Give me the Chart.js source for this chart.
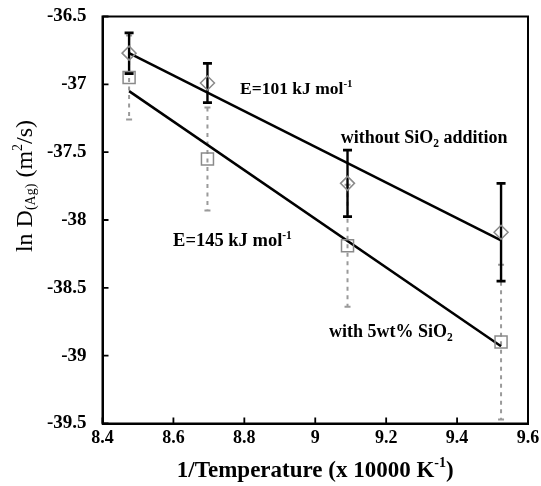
<!DOCTYPE html>
<html>
<head>
<meta charset="utf-8">
<script src="https://cdn.jsdelivr.net/npm/chart.js@4.4.1/dist/chart.umd.min.js"></script>
<style>
  html, body { margin: 0; padding: 0; background: #ffffff; }
  #wrap { width: 541px; height: 486px; position: relative; }
  canvas { display: block; }
</style>
</head>
<body>
<div id="wrap"><canvas id="c" width="541" height="486"></canvas></div>
<script>
// ---- data ----
const xValues = [8.475, 8.696, 9.091, 9.524];           // 1/T (x 10000 K^-1)
const withoutSiO2 = [-36.77, -36.99, -37.73, -38.09];   // ln D, diamonds
const withoutSiO2Err = [0.15, 0.145, 0.245, 0.36];
const withSiO2 = [-36.95, -37.55, -38.19, -38.90];      // ln D, squares
const withSiO2Err = [0.31, 0.38, 0.45, 0.57];
const fitX = [8.475, 9.524];
const fitWithout = [-36.77, -38.15];                    // E = 101 kJ/mol
const fitWith = [-37.05, -38.93];                       // E = 145 kJ/mol
const xTicks = [8.4, 8.6, 8.8, 9.0, 9.2, 9.4, 9.6];
const xTickLabels = ['8.4', '8.6', '8.8', '9', '9.2', '9.4', '9.6'];
const yTicks = [-39.5, -39, -38.5, -38, -37.5, -37, -36.5];
const yTickLabels = ['-39.5', '-39', '-38.5', '-38', '-37.5', '-37', '-36.5'];

const SERIF = '"Liberation Serif", "Times New Roman", serif';

function pts(xs, ys) { return xs.map((x, i) => ({ x: x, y: ys[i] })); }

// rich text: segments [{t, size, bold, dy}]
function drawRich(ctx, segs, x, y, align) {
  let total = 0;
  segs.forEach(s => {
    ctx.font = (s.bold ? 'bold ' : '') + s.size + 'px ' + SERIF;
    s.w = ctx.measureText(s.t).width;
    total += s.w;
  });
  let cx = align === 'center' ? x - total / 2 : x;
  ctx.textBaseline = 'alphabetic';
  ctx.textAlign = 'left';
  segs.forEach(s => {
    ctx.font = (s.bold ? 'bold ' : '') + s.size + 'px ' + SERIF;
    ctx.fillText(s.t, cx, y + (s.dy || 0));
    cx += s.w;
  });
}

const decorPlugin = {
  id: 'decor',
  beforeDatasetsDraw(chart) {
    const ctx = chart.ctx;
    const xs = chart.scales.x, ys = chart.scales.y;
    ctx.save();
    // gray dashed error bars (with SiO2)
    ctx.strokeStyle = '#9a9a9a';
    ctx.lineWidth = 2;
    xValues.forEach((xv, i) => {
      const px = xs.getPixelForValue(xv);
      const top = ys.getPixelForValue(withSiO2[i] + withSiO2Err[i]);
      const bot = ys.getPixelForValue(withSiO2[i] - withSiO2Err[i]);
      ctx.setLineDash([4, 4.5]);
      ctx.beginPath(); ctx.moveTo(px, top); ctx.lineTo(px, bot); ctx.stroke();
      ctx.setLineDash([]);
      ctx.beginPath();
      ctx.moveTo(px - 3, top); ctx.lineTo(px + 3, top);
      ctx.moveTo(px - 3, bot); ctx.lineTo(px + 3, bot);
      ctx.stroke();
    });
    // black error bars (without SiO2)
    ctx.strokeStyle = '#000000';
    xValues.forEach((xv, i) => {
      const px = xs.getPixelForValue(xv);
      const top = ys.getPixelForValue(withoutSiO2[i] + withoutSiO2Err[i]);
      const bot = ys.getPixelForValue(withoutSiO2[i] - withoutSiO2Err[i]);
      ctx.lineWidth = 2.4;
      ctx.beginPath(); ctx.moveTo(px, top); ctx.lineTo(px, bot); ctx.stroke();
      ctx.lineWidth = 2.8;
      ctx.beginPath();
      ctx.moveTo(px - 4.5, top); ctx.lineTo(px + 4.5, top);
      ctx.moveTo(px - 4.5, bot); ctx.lineTo(px + 4.5, bot);
      ctx.stroke();
    });
    ctx.restore();
  },
  afterDraw(chart) {
    const ctx = chart.ctx;
    const a = chart.chartArea;
    const xs = chart.scales.x, ys = chart.scales.y;
    ctx.save();
    // box
    ctx.strokeStyle = '#000';
    ctx.lineWidth = 2;
    ctx.beginPath();
    ctx.rect(a.left, a.top, a.right - a.left, a.bottom - a.top);
    ctx.stroke();
    // inward tick marks
    ctx.lineWidth = 1.8;
    ctx.beginPath();
    xTicks.forEach(v => {
      const px = xs.getPixelForValue(v);
      ctx.moveTo(px, a.bottom); ctx.lineTo(px, a.bottom - 6);
    });
    yTicks.forEach(v => {
      const py = ys.getPixelForValue(v);
      ctx.moveTo(a.left, py); ctx.lineTo(a.left + 6, py);
    });
    ctx.stroke();

    ctx.fillStyle = '#000';
    // annotations
    drawRich(ctx, [
      { t: 'E=101 kJ mol', size: 17.5, bold: true },
      { t: '-1', size: 11, bold: true, dy: -7 }
    ], xs.getPixelForValue(8.788), ys.getPixelForValue(-37.07), 'left');
    drawRich(ctx, [
      { t: 'without SiO', size: 18, bold: true },
      { t: '2', size: 11.5, bold: true, dy: 4 },
      { t: ' addition', size: 18, bold: true }
    ], xs.getPixelForValue(9.072), ys.getPixelForValue(-37.434), 'left');
    drawRich(ctx, [
      { t: 'E=145 kJ mol', size: 18.5, bold: true },
      { t: '-1', size: 11.5, bold: true, dy: -7 }
    ], xs.getPixelForValue(8.599), ys.getPixelForValue(-38.194), 'left');
    drawRich(ctx, [
      { t: 'with 5wt% SiO', size: 18, bold: true },
      { t: '2', size: 11.5, bold: true, dy: 4 }
    ], xs.getPixelForValue(9.039), ys.getPixelForValue(-38.866), 'left');

    // x-axis title
    drawRich(ctx, [
      { t: '1/Temperature (x 10000 K', size: 23, bold: true },
      { t: '-1', size: 14, bold: true, dy: -10 },
      { t: ')', size: 23, bold: true }
    ], (a.left + a.right) / 2, 477, 'center');

    // y-axis title (rotated)
    ctx.translate(32, 186);
    ctx.rotate(-Math.PI / 2);
    drawRich(ctx, [
      { t: 'ln D', size: 24, bold: false },
      { t: '(Ag)', size: 14, bold: false, dy: 3 },
      { t: ' (m', size: 24, bold: false },
      { t: '2', size: 14, bold: false, dy: -10 },
      { t: '/s)', size: 24, bold: false }
    ], 0, 0, 'center');
    ctx.restore();
  }
};

new Chart(document.getElementById('c'), {
  type: 'scatter',
  data: {
    datasets: [
      {
        label: 'E=101 fit',
        data: pts(fitX, fitWithout),
        showLine: true,
        borderColor: '#000',
        borderWidth: 2.5,
        pointRadius: 0,
        order: 3
      },
      {
        label: 'E=145 fit',
        data: pts(fitX, fitWith),
        showLine: true,
        borderColor: '#000',
        borderWidth: 2.5,
        pointRadius: 0,
        order: 4
      },
      {
        label: 'without SiO2 addition',
        data: pts(xValues, withoutSiO2),
        pointStyle: 'rectRot',
        pointRadius: 7,
        borderColor: '#8a8a8a',
        backgroundColor: 'rgba(0,0,0,0)',
        borderWidth: 1.5,
        order: 1
      },
      {
        label: 'with 5wt% SiO2',
        data: pts(xValues, withSiO2),
        pointStyle: 'rect',
        pointRadius: 8.5,
        borderColor: '#8a8a8a',
        backgroundColor: 'rgba(0,0,0,0)',
        borderWidth: 1.5,
        order: 2
      }
    ]
  },
  options: {
    responsive: false,
    animation: false,
    devicePixelRatio: 1,
    layout: { padding: { left: 0, right: 13, top: 16.5, bottom: 0 } },
    plugins: { legend: { display: false }, tooltip: { enabled: false } },
    scales: {
      x: {
        type: 'linear',
        min: 8.4, max: 9.6,
        afterBuildTicks: s => { s.ticks = xTicks.map(v => ({ value: v })); },
        afterFit: s => { s.height = 62.5; s.paddingLeft = 0; s.paddingRight = 0; s.paddingTop = 0; s.paddingBottom = 0; },
        grid: { display: false, drawTicks: false },
        border: { display: true, color: '#000', width: 2 },
        ticks: {
          padding: 4,
          color: '#000',
          maxRotation: 0,
          autoSkip: false,
          font: { family: SERIF, size: 18, weight: 'bold' },
          callback: (v) => xTickLabels[xTicks.findIndex(t => Math.abs(t - v) < 1e-6)]
        }
      },
      y: {
        type: 'linear',
        min: -39.5, max: -36.5,
        afterBuildTicks: s => { s.ticks = yTicks.map(v => ({ value: v })); },
        afterFit: s => { s.width = 102.5; s.paddingTop = 0; s.paddingBottom = 0; s.paddingLeft = 0; s.paddingRight = 0; },
        grid: { display: false, drawTicks: false },
        border: { display: true, color: '#000', width: 2 },
        ticks: {
          padding: 16,
          color: '#000',
          autoSkip: false,
          font: { family: SERIF, size: 19, weight: 'bold' },
          callback: (v) => yTickLabels[yTicks.findIndex(t => Math.abs(t - v) < 1e-6)]
        }
      }
    }
  },
  plugins: [decorPlugin]
});
</script>
</body>
</html>
